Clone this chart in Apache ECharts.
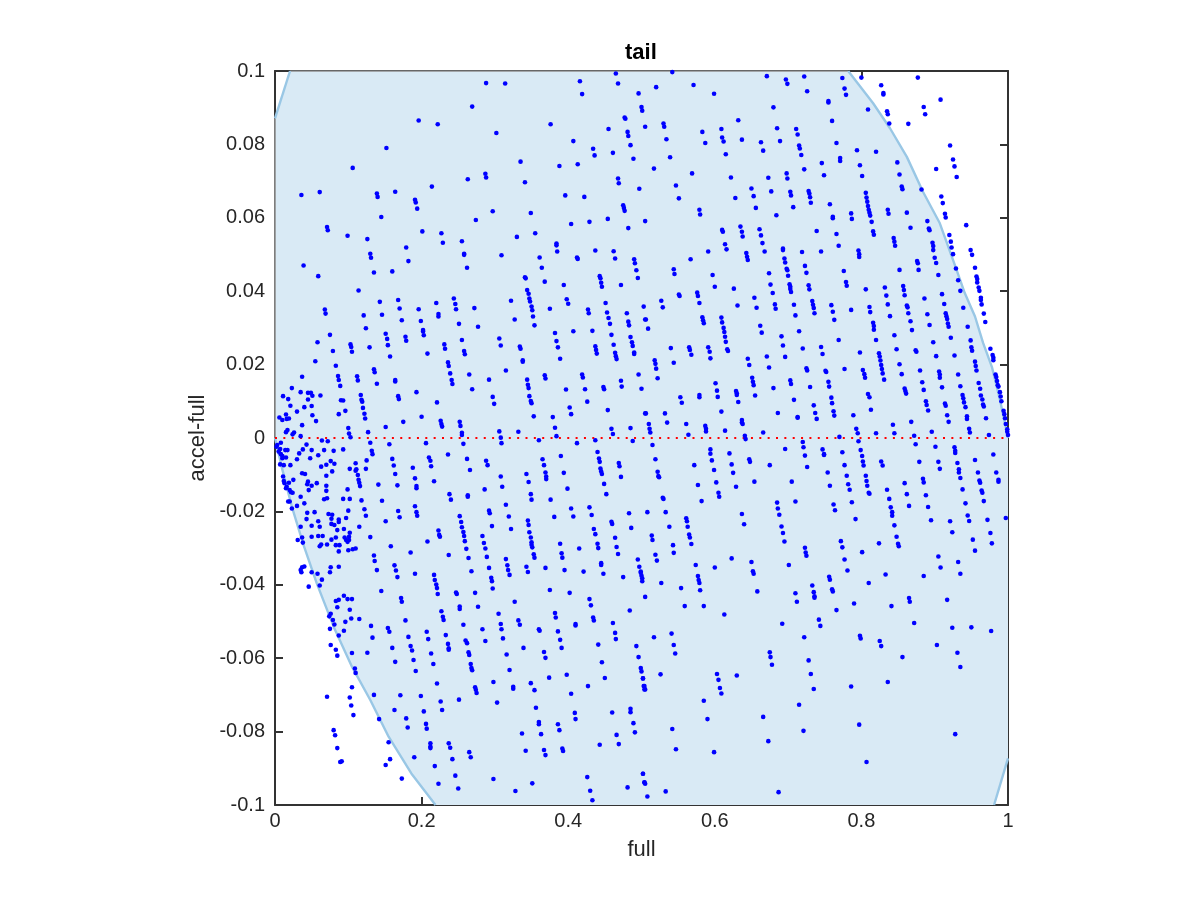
<!DOCTYPE html>
<html><head><meta charset="utf-8"><style>html,body{margin:0;padding:0;background:#fff}#c{width:1200px;height:900px}</style>
<script src="https://cdn.jsdelivr.net/npm/echarts@6/dist/echarts.min.js"></script></head><body><div id="c"></div><script>
const xTicks=[0,0.2,0.4,0.6,0.8,1];
const yTicks=[-0.1,-0.08,-0.06,-0.04,-0.02,0,0.02,0.04,0.06,0.08,0.1];
const titleText='tail', xName='full', yName='accel-full';
const curveRight=[[.782,.1],[.816,.0912],[.839,.0844],[.862,.0766],[.884,.0671],[.907,.0585],[.929,.0463],[.941,.0395],[.955,.0331],[.966,.0259],[.978,.0194],[.989,.0104],[1,0]];
const curveLeft=[[0,0],[.009,-.0078],[.023,-.0187],[.039,-.0292],[.057,-.0396],[.08,-.0514],[.105,-.0623],[.13,-.0714],[.155,-.0814],[.186,-.0914],[.219,-.1]];
const cornerTop=[[0,.0871],[.0205,.1]];
const cornerBottom=[[.981,-.1],[1,-.0873]];
const rimTop=[[.0205,.1],[.782,.1]];
const rimLeft=[[0,.0871],[0,0]];
const zeroLine=[[0,0],[1,0]];
const upperLeft=[[.288,.0967],[.314,.0966],[.465,.0993],[.468,.0966],[.416,.0972],[.419,.0937],[.496,.0939],[.5,.0902],[.501,.0892],[.269,.0903],[.196,.0865],[.222,.0855],[.376,.0855],[.477,.0873],[.478,.087],[.455,.0842],[.505,.0848],[.481,.0834],[.482,.0823],[.302,.0831],[.407,.0809],[.485,.0798],[.434,.0788],[.461,.0777],[.436,.077],[.489,.0761],[.152,.079],[.106,.0736],[.335,.0753],[.413,.0746],[.388,.0741],[.287,.072],[.288,.071],[.263,.0705],[.468,.0707],[.469,.0694],[.341,.0697],[.214,.0685],[.497,.0679],[.036,.0662],[.061,.067],[.139,.0666],[.14,.0657],[.164,.0671],[.191,.0649],[.192,.0642],[.194,.0625],[.396,.0661],[.422,.0657],[.475,.0634],[.476,.0627],[.477,.0619],[.297,.0618],[.349,.0613],[.145,.0602],[.274,.0594],[.404,.0583],[.429,.0589],[.454,.0597],[.505,.0591],[.482,.0572],[.071,.0575],[.072,.0566],[.201,.0563],[.227,.0558],[.229,.0532],[.355,.0558],[.099,.0551],[.126,.0542],[.33,.0548],[.255,.0536],[.384,.053],[.384,.0525],[.385,.0508],[.179,.0519],[.13,.0502],[.131,.0491],[.258,.0502],[.258,.0499],[.309,.0498],[.437,.0511],[.462,.0509],[.464,.0489],[.361,.0492],[.412,.0492],[.413,.0488],[.49,.0487],[.491,.0476],[.182,.0482],[.262,.0464],[.364,.0464],[.039,.047],[.16,.0454],[.135,.0451],[.059,.0441],[.493,.0457],[.495,.0436],[.341,.0438],[.342,.0435],[.443,.0441],[.444,.0435],[.445,.0423],[.446,.0412],[.368,.0426],[.472,.0417],[.394,.0417],[.114,.0402],[.344,.0403],[.346,.0393],[.347,.038],[.348,.0372],[.35,.0358],[.351,.0348],[.352,.0331],[.354,.0307],[.398,.0378],[.4,.0366],[.143,.0371],[.168,.0376],[.244,.038],[.246,.0365],[.247,.0351],[.22,.0368],[.322,.0374],[.451,.0368],[.453,.0342],[.455,.0327],[.457,.0311],[.459,.0281],[.462,.0254],[.464,.0232],[.465,.0223],[.466,.0215],[.068,.035],[.069,.0339],[.17,.0353],[.196,.0351],[.223,.0338],[.223,.0331],[.272,.0354],[.375,.0352],[.427,.035],[.428,.034],[.503,.0358],[.505,.0323],[.121,.0334],[.146,.0336],[.327,.0323],[.173,.0321],[.199,.0319],[.48,.034],[.482,.0317],[.483,.0307],[.251,.0311],[.277,.0303],[.124,.0299],[.202,.0294],[.202,.029],[.203,.028],[.433,.0292],[.407,.0291],[.382,.0286],[.384,.0264],[.386,.0247],[.389,.0216],[.151,.0284],[.153,.027],[.154,.0253],[.157,.0222],[.075,.0281],[.178,.0276],[.179,.0265],[.306,.0271],[.308,.0252],[.255,.0267],[.058,.0261],[.103,.0255],[.104,.0248],[.105,.0235],[.231,.0255],[.232,.0243],[.129,.0247],[.334,.0249],[.335,.0243],[.485,.0275],[.487,.0261],[.488,.0251],[.49,.0233],[.49,.0229],[.437,.025],[.438,.024],[.439,.023],[.258,.0237],[.259,.0228],[.079,.0237],[.208,.023],[.338,.0212],[.338,.0208],[.055,.0209],[.236,.0206],[.237,.0196],[.239,.0176],[.241,.0158],[.242,.0147],[.083,.0197],[.135,.0187],[.136,.0179],[.315,.0184],[.037,.0167],[.086,.0169],[.087,.0158],[.089,.0142],[.112,.0168],[.113,.0157],[.265,.0173],[.292,.0159],[.344,.0159],[.345,.0145],[.346,.0136],[.368,.0171],[.369,.0162],[.419,.0173],[.42,.0165],[.496,.0173],[.164,.0158],[.164,.0154],[.139,.0148],[.472,.0156],[.473,.014],[.448,.0139],[.449,.0133],[.397,.0132],[.423,.0133],[.5,.0134],[.269,.0133],[.193,.0125],[.023,.0136],[.035,.0125],[.045,.0123],[.049,.0123],[.051,.0115],[.045,.0105],[.062,.0116],[.011,.0114],[.018,.0106],[.117,.0117],[.118,.0104],[.119,.0099],[.12,.0082],[.122,.0066],[.123,.0053],[.168,.0114],[.169,.0106],[.297,.0112],[.299,.0093],[.347,.0114],[.349,.0101],[.35,.0095],[.09,.0103],[.093,.0102],[.221,.0097],[.426,.0099],[.021,.0088],[.05,.0087],[.04,.0084],[.402,.0083],[.404,.0065],[.096,.0074],[.454,.0076],[.03,.0072],[.015,.0064],[.051,.0062],[.087,.0065],[.505,.0067],[.006,.0056],[.01,.0049],[.016,.0052],[.019,.0053],[.2,.0058],[.353,.0059],[.379,.0057],[.056,.0046],[.175,.0044],[.226,.0047],[.227,.0038],[.228,.0031],[.252,.0044],[.253,.0033],[.037,.0035],[.151,.003],[.1,.0027],[.382,.0028],[.485,.0027],[.459,.0025],[.017,.0022],[.015,.0016],[.026,.0015],[.024,.001],[.101,.0012],[.103,.0002],[.127,.0016],[.255,.0014],[.255,.0008],[.306,.0018],[.308,.0001],[.332,.0017],[.384,.0005],[.461,.0011],[.035,.0005]];
const upperRight=[[.542,.0997],[.52,.0956],[.571,.0962],[.599,.0938],[.671,.0986],[.697,.0977],[.699,.0965],[.722,.0985],[.726,.0945],[.774,.0981],[.777,.0952],[.779,.0935],[.8,.0982],[.827,.0961],[.83,.094],[.83,.0936],[.877,.0982],[.908,.0922],[.755,.0918],[.755,.0914],[.885,.0902],[.887,.0882],[.68,.0901],[.809,.0895],[.835,.089],[.836,.0882],[.838,.0857],[.864,.0856],[.76,.0864],[.632,.0866],[.53,.0857],[.531,.0848],[.609,.0842],[.61,.0819],[.612,.0808],[.583,.0834],[.587,.0804],[.685,.0844],[.689,.0809],[.711,.0842],[.713,.0827],[.715,.0797],[.716,.0789],[.718,.0771],[.534,.0814],[.637,.0813],[.663,.0806],[.666,.0783],[.766,.0804],[.921,.0797],[.794,.0784],[.82,.078],[.615,.0773],[.539,.0765],[.771,.0763],[.771,.0755],[.925,.0759],[.927,.074],[.93,.0711],[.746,.0749],[.798,.0743],[.849,.0751],[.517,.0734],[.722,.0732],[.902,.0733],[.569,.0721],[.698,.0721],[.699,.0707],[.749,.0716],[.801,.0714],[.852,.0718],[.622,.071],[.673,.0709],[.547,.0688],[.65,.068],[.653,.0659],[.656,.0627],[.855,.0685],[.856,.0678],[.882,.0677],[.677,.0672],[.703,.0671],[.704,.0661],[.728,.0673],[.729,.0666],[.73,.0656],[.731,.0641],[.628,.0654],[.551,.0653],[.806,.0668],[.807,.0655],[.808,.0644],[.809,.0632],[.81,.0622],[.811,.0614],[.812,.0606],[.814,.0589],[.909,.0658],[.911,.064],[.757,.0637],[.707,.0629],[.836,.0622],[.837,.0611],[.579,.0622],[.58,.0609],[.786,.0612],[.787,.0597],[.862,.0614],[.684,.0607],[.761,.0603],[.761,.0599],[.914,.0611],[.915,.0601],[.89,.0591],[.892,.0571],[.893,.0566],[.943,.058],[.635,.0576],[.637,.0562],[.638,.0549],[.661,.0569],[.663,.0552],[.665,.0531],[.668,.0508],[.61,.0567],[.611,.0562],[.867,.0573],[.739,.0564],[.816,.0563],[.817,.0554],[.766,.0556],[.92,.0553],[.922,.0535],[.923,.0519],[.925,.0501],[.844,.0545],[.845,.0535],[.846,.0524],[.897,.0532],[.898,.0523],[.898,.0512],[.614,.0528],[.616,.0514],[.769,.0524],[.693,.0516],[.693,.0512],[.591,.0508],[.719,.0507],[.745,.0508],[.796,.0511],[.797,.0501],[.797,.0493],[.643,.0504],[.644,.0494],[.645,.0485],[.949,.0512],[.951,.0499],[.9,.0491],[.902,.0477],[.695,.0489],[.696,.0478],[.698,.0461],[.699,.0457],[.7,.0442],[.567,.0487],[.876,.0482],[.877,.0476],[.878,.0458],[.723,.0469],[.725,.045],[.544,.046],[.545,.0447],[.852,.0458],[.776,.0455],[.955,.0464],[.929,.0462],[.674,.0449],[.597,.0444],[.905,.0444],[.957,.044],[.958,.0433],[.958,.0424],[.96,.041],[.961,.0401],[.963,.0382],[.963,.0376],[.964,.0364],[.967,.0339],[.969,.0316],[.932,.043],[.935,.0401],[.779,.0425],[.78,.0415],[.676,.0418],[.679,.0395],[.702,.0419],[.703,.0412],[.703,.0406],[.704,.0398],[.728,.0416],[.729,.0405],[.6,.0412],[.626,.0407],[.806,.0405],[.832,.041],[.834,.0388],[.836,.0364],[.839,.0332],[.857,.0414],[.858,.0403],[.859,.0389],[.576,.0396],[.577,.0387],[.579,.0368],[.551,.0391],[.552,.0387],[.91,.0392],[.913,.0365],[.886,.038],[.654,.0382],[.733,.0373],[.734,.0363],[.735,.0354],[.736,.034],[.527,.0374],[.529,.0356],[.682,.0364],[.683,.0352],[.708,.0363],[.631,.0361],[.759,.0362],[.761,.0344],[.763,.0322],[.657,.0355],[.811,.0357],[.812,.0343],[.862,.0361],[.863,.0356],[.864,.034],[.867,.0318],[.869,.0294],[.939,.0355],[.786,.0349],[.915,.034],[.916,.0332],[.917,.0324],[.918,.0312],[.919,.0303],[.89,.0337],[.71,.0334],[.506,.0323],[.509,.0298],[.583,.0329],[.584,.0321],[.585,.0313],[.609,.0328],[.61,.0315],[.612,.03],[.613,.0289],[.614,.0276],[.615,.0262],[.617,.0242],[.618,.0237],[.816,.0314],[.817,.0305],[.817,.0295],[.893,.0308],[.945,.0303],[.662,.0306],[.664,.0287],[.715,.0291],[.845,.028],[.82,.0267],[.691,.0277],[.693,.0252],[.769,.0267],[.949,.0266],[.922,.0273],[.898,.0261],[.54,.0245],[.565,.0247],[.566,.024],[.568,.0227],[.591,.0247],[.593,.0235],[.594,.0217],[.72,.0244],[.745,.0248],[.747,.0229],[.95,.0247],[.951,.0238],[.848,.0242],[.874,.0239],[.875,.0235],[.798,.0233],[.824,.0231],[.825,.0222],[.826,.0211],[.827,.0199],[.828,.0188],[.829,.0176],[.831,.0159],[.976,.0243],[.979,.0226],[.98,.0219],[.98,.0212],[.902,.0223],[.927,.0225],[.671,.0222],[.696,.0221],[.518,.0212],[.519,.0202],[.52,.0189],[.645,.0216],[.647,.0199],[.544,.0205],[.955,.0208],[.956,.0196],[.957,.0184],[.852,.0201],[.674,.0192],[.725,.019],[.726,.0184],[.751,.0183],[.752,.018],[.777,.0188],[.802,.0185],[.804,.0174],[.805,.0164],[.88,.0184],[.855,.0174],[.906,.0181],[.907,.0173],[.907,.0164],[.932,.0173],[.522,.0163],[.983,.0173],[.984,.0166],[.985,.0155],[.986,.0144],[.987,.014],[.651,.0164],[.652,.0153],[.653,.0144],[.703,.0157],[.704,.0147],[.601,.0149],[.755,.0153],[.756,.014],[.883,.0152],[.96,.015],[.962,.0134],[.935,.0141],[.91,.0138],[.73,.0139],[.68,.0136],[.603,.0129],[.885,.0131],[.629,.0128],[.63,.0122],[.63,.0117],[.859,.0135],[.86,.0128],[.861,.0121],[.989,.0125],[.99,.0113],[.991,.01],[.579,.0117],[.579,.0111],[.655,.0116],[.604,.0112],[.553,.0111],[.555,.0096],[.809,.012],[.811,.0111],[.759,.011],[.76,.0095],[.938,.0117],[.939,.0108],[.94,.0097],[.942,.0084],[.963,.0116],[.965,.0105],[.966,.0091],[.967,.0086],[.708,.0104],[.632,.0098],[.735,.0089],[.888,.01],[.889,.009],[.891,.0075],[.914,.0094],[.915,.0088],[.813,.0077],[.609,.0072],[.686,.0068],[.506,.0067],[.532,.0067],[.737,.0068],[.739,.0052],[.762,.0073],[.763,.0061],[.994,.0074],[.995,.0065],[.996,.0054],[.997,.0038],[.713,.0057],[.713,.0055],[.789,.0062],[.917,.0062],[.919,.0044],[.944,.0059],[.944,.0052],[.97,.0054],[.637,.0049],[.637,.0042],[.638,.0038],[.535,.0042],[.51,.0038],[.511,.0025],[.512,.0015],[.561,.0038],[.587,.0033],[.588,.0025],[.588,.0018],[.868,.0044],[.843,.0036],[.614,.002],[.666,.0015],[.564,.0009],[.793,.0025],[.795,.0013],[.845,.0013],[.82,.0013],[.896,.0017],[.947,.0025],[.948,.0015],[.999,.0024],[.999,.0017],[1,.0008],[.974,.0008],[.641,.0006],[.77,.0003],[.872,.0006]];
const lowerLeft=[[.003,-.0019],[.002,-.0024],[.007,-.003],[.005,-.0037],[.008,-.0044],[.01,-.0049],[.008,-.0013],[.014,-.0033],[.017,-.0033],[.015,-.0053],[.01,-.0055],[.007,-.0072],[.012,-.0074],[.021,-.0074],[.033,-.0042],[.038,-.0031],[.043,-.0018],[.03,-.0058],[.05,-.0033],[.059,-.0047],[.048,-.0055],[.067,-.0033],[.08,-.0035],[.093,-.0031],[.064,-.0007],[.072,-.0009],[.063,-.0078],[.07,-.0073],[.076,-.0063],[.081,-.007],[.078,-.0091],[.07,-.0103],[.102,-.0084],[.11,-.0069],[.111,-.0085],[.11,-.0089],[.124,-.0084],[.125,-.0061],[.13,-.0013],[.132,-.0035],[.133,-.0044],[.113,-.0101],[.114,-.0114],[.115,-.0122],[.116,-.0131],[.156,-.0017],[.16,-.0057],[.162,-.0075],[.164,-.0098],[.167,-.0129],[.141,-.0127],[.146,-.0171],[.188,-.0081],[.191,-.011],[.193,-.0131],[.193,-.0137],[.206,-.0014],[.21,-.0053],[.212,-.0062],[.213,-.0077],[.217,-.0118],[.236,-.0045],[.262,-.0057],[.266,-.0087],[.288,-.0062],[.29,-.0074],[.257,-.0016],[.309,-.0014],[.36,-.0006],[.412,-.0014],[.437,-.0006],[.488,-.0008],[.39,-.0049],[.394,-.0095],[.399,-.0138],[.365,-.0058],[.367,-.0074],[.369,-.0094],[.37,-.0105],[.37,-.0112],[.343,-.0098],[.346,-.012],[.349,-.0153],[.35,-.0168],[.376,-.0168],[.308,-.0105],[.31,-.0133],[.286,-.014],[.238,-.0153],[.24,-.0168],[.263,-.0156],[.263,-.016],[.44,-.0038],[.442,-.0056],[.443,-.0065],[.444,-.0083],[.445,-.0091],[.446,-.0098],[.449,-.0125],[.452,-.0153],[.469,-.0068],[.47,-.0077],[.472,-.0106],[.011,-.0105],[.012,-.0117],[.013,-.0123],[.019,-.0122],[.015,-.0137],[.016,-.0133],[.02,-.0142],[.022,-.0148],[.024,-.0149],[.025,-.0114],[.037,-.0096],[.041,-.0098],[.045,-.0119],[.044,-.0126],[.05,-.013],[.057,-.0123],[.046,-.0142],[.07,-.013],[.07,-.0144],[.071,-.0164],[.067,-.0167],[.099,-.014],[.093,-.0166],[.102,-.0166],[.035,-.016],[.04,-.0178],[.03,-.0185],[.023,-.0192],[.018,-.0173],[.02,-.0173],[.118,-.017],[.122,-.0194],[.124,-.0212],[.1,-.0198],[.097,-.0218],[.115,-.0242],[.13,-.027],[.044,-.0204],[.054,-.0202],[.043,-.0221],[.035,-.0242],[.073,-.0207],[.078,-.0209],[.077,-.022],[.087,-.0222],[.087,-.0229],[.059,-.0227],[.077,-.0234],[.081,-.0237],[.05,-.0239],[.061,-.0242],[.085,-.0251],[.094,-.0248],[.102,-.0258],[.05,-.0269],[.059,-.0267],[.065,-.0267],[.037,-.0271],[.031,-.0278],[.038,-.0285],[.077,-.0277],[.083,-.0271],[.095,-.0271],[.101,-.0269],[.097,-.0278],[.101,-.0278],[.099,-.0283],[.071,-.029],[.063,-.029],[.061,-.0295],[.083,-.0292],[.088,-.0292],[.087,-.0309],[.1,-.0306],[.106,-.0303],[.11,-.0301],[.151,-.0227],[.168,-.0199],[.17,-.0216],[.191,-.0186],[.193,-.0202],[.194,-.0212],[.252,-.0213],[.254,-.0229],[.255,-.0243],[.257,-.0256],[.258,-.0267],[.259,-.0281],[.261,-.0302],[.264,-.0327],[.268,-.0363],[.223,-.0252],[.224,-.0264],[.225,-.0269],[.208,-.0282],[.185,-.0312],[.158,-.0295],[.292,-.0198],[.293,-.0205],[.296,-.024],[.315,-.0182],[.319,-.0214],[.322,-.0248],[.345,-.0225],[.346,-.0237],[.347,-.0257],[.349,-.0271],[.35,-.0284],[.35,-.0291],[.351,-.0298],[.353,-.0317],[.354,-.0326],[.283,-.0267],[.285,-.0286],[.287,-.0301],[.289,-.0324],[.292,-.0354],[.295,-.0381],[.296,-.039],[.297,-.041],[.381,-.0215],[.404,-.0192],[.407,-.0214],[.429,-.0189],[.432,-.021],[.435,-.0248],[.437,-.0262],[.389,-.0288],[.391,-.0314],[.392,-.0326],[.395,-.036],[.459,-.0228],[.46,-.0234],[.483,-.0205],[.486,-.0245],[.464,-.0272],[.466,-.0297],[.468,-.0316],[.44,-.0288],[.441,-.03],[.415,-.0301],[.445,-.0341],[.445,-.0346],[.448,-.037],[.421,-.0364],[.369,-.0354],[.495,-.0331],[.497,-.0351],[.499,-.0367],[.5,-.0375],[.501,-.0382],[.475,-.0379],[.315,-.033],[.317,-.0347],[.318,-.036],[.32,-.0373],[.343,-.0351],[.345,-.0365],[.135,-.032],[.136,-.0335],[.139,-.036],[.163,-.0347],[.165,-.0361],[.167,-.0379],[.191,-.037],[.237,-.0319],[.217,-.0373],[.218,-.0387],[.22,-.0399],[.221,-.0409],[.222,-.0425],[.076,-.0352],[.087,-.0351],[.075,-.0366],[.037,-.0352],[.04,-.035],[.035,-.036],[.036,-.0366],[.05,-.0366],[.058,-.037],[.064,-.0386],[.061,-.0402],[.046,-.0405],[.145,-.0417],[.247,-.0421],[.248,-.0425],[.273,-.0422],[.375,-.0414],[.402,-.0422],[.094,-.043],[.099,-.0439],[.105,-.0439],[.087,-.0441],[.083,-.0444],[.172,-.0436],[.173,-.0446],[.327,-.0446],[.429,-.0439],[.431,-.0456],[.252,-.0459],[.252,-.0466],[.277,-.046],[.085,-.0461],[.102,-.0468],[.227,-.0472],[.229,-.0487],[.23,-.0496],[.305,-.0479],[.382,-.0477],[.383,-.0489],[.484,-.047],[.076,-.0479],[.074,-.0486],[.079,-.0496],[.081,-.0508],[.104,-.0492],[.115,-.0493],[.096,-.0501],[.178,-.0497],[.332,-.0497],[.334,-.0509],[.434,-.0489],[.435,-.0497],[.131,-.0512],[.154,-.0518],[.156,-.0528],[.257,-.0509],[.308,-.0507],[.309,-.0521],[.41,-.0507],[.41,-.0511],[.461,-.0504],[.283,-.0521],[.36,-.0521],[.361,-.0525],[.075,-.052],[.094,-.0525],[.087,-.0538],[.207,-.0528],[.209,-.0548],[.233,-.0537],[.386,-.0527],[.389,-.055],[.391,-.0572],[.464,-.0531],[.465,-.0548],[.133,-.0544],[.182,-.0542],[.185,-.0567],[.187,-.0579],[.189,-.0605],[.192,-.0635],[.26,-.0552],[.262,-.0559],[.236,-.0561],[.237,-.0573],[.237,-.0577],[.311,-.0546],[.287,-.0553],[.076,-.0564],[.083,-.0577],[.16,-.0572],[.339,-.0572],[.441,-.0563],[.493,-.0567],[.367,-.0583],[.369,-.0599],[.126,-.0585],[.105,-.0586],[.085,-.0593],[.264,-.0584],[.265,-.0591],[.267,-.0616],[.268,-.0627],[.269,-.0633],[.213,-.0587],[.216,-.0616],[.316,-.059],[.446,-.0611],[.164,-.061],[.496,-.0597],[.499,-.0627],[.5,-.0636],[.502,-.0655],[.109,-.0628],[.11,-.064],[.32,-.0632],[.374,-.0653],[.398,-.0645],[.45,-.0654],[.298,-.0665],[.221,-.0669],[.273,-.0679],[.274,-.0686],[.275,-.0695],[.325,-.0678],[.325,-.0683],[.349,-.0668],[.354,-.0687],[.427,-.0676],[.503,-.0676],[.504,-.0685],[.105,-.0679],[.071,-.0705],[.102,-.0707],[.104,-.0729],[.107,-.0755],[.135,-.07],[.171,-.0701],[.199,-.0703],[.251,-.0713],[.226,-.0718],[.228,-.0741],[.303,-.0721],[.404,-.0697],[.163,-.0741],[.203,-.0745],[.356,-.0735],[.409,-.0749],[.41,-.0766],[.46,-.0748],[.485,-.0738],[.485,-.0747],[.179,-.0764],[.181,-.0789],[.142,-.0766],[.206,-.0779],[.207,-.0792],[.36,-.0774],[.36,-.078],[.363,-.0807],[.386,-.078],[.388,-.0796],[.489,-.0777],[.491,-.0802],[.466,-.0809],[.08,-.0796],[.082,-.081],[.337,-.0805],[.212,-.0832],[.212,-.0841],[.212,-.0845],[.237,-.0832],[.239,-.0844],[.242,-.0875],[.155,-.0829],[.443,-.0836],[.469,-.0834],[.085,-.0845],[.089,-.0883],[.091,-.0881],[.342,-.0852],[.367,-.085],[.369,-.0864],[.392,-.0846],[.393,-.0853],[.265,-.0856],[.267,-.087],[.19,-.087],[.157,-.0875],[.151,-.0891],[.218,-.0894],[.246,-.092],[.173,-.0928],[.298,-.0929],[.426,-.0924],[.502,-.0915],[.504,-.0939],[.223,-.0942],[.351,-.0941],[.25,-.0955],[.481,-.0952],[.43,-.0961],[.328,-.0962],[.433,-.0987]];
const lowerRight=[[.515,-.0019],[.594,-.0031],[.594,-.0043],[.596,-.0061],[.599,-.0087],[.602,-.0121],[.605,-.0149],[.606,-.016],[.62,-.0042],[.623,-.0072],[.625,-.0095],[.629,-.0133],[.642,-.0003],[.647,-.0058],[.648,-.0065],[.654,-.0119],[.675,-.0074],[.696,-.003],[.72,-.0011],[.721,-.0025],[.723,-.0048],[.726,-.0079],[.747,-.0031],[.749,-.0044],[.749,-.0046],[.774,-.0039],[.777,-.0074],[.78,-.0103],[.782,-.0126],[.784,-.0141],[.787,-.0175],[.796,-.0009],[.799,-.0033],[.801,-.0049],[.802,-.0064],[.803,-.0075],[.806,-.0103],[.807,-.0117],[.808,-.013],[.81,-.0149],[.811,-.0152],[.827,-.0064],[.829,-.0075],[.874,-.0017],[.901,-.0024],[.879,-.0065],[.884,-.0111],[.885,-.0121],[.905,-.0065],[.907,-.0084],[.927,-.0025],[.928,-.0035],[.928,-.0041],[.931,-.0068],[.933,-.0085],[.933,-.0094],[.935,-.0109],[.938,-.014],[.942,-.0178],[.955,-.006],[.959,-.0094],[.961,-.0116],[.962,-.0122],[.964,-.0143],[.965,-.0149],[.967,-.0172],[.98,-.0045],[.984,-.0094],[.987,-.0114],[.987,-.0119],[.519,-.0058],[.522,-.0092],[.523,-.0104],[.524,-.0107],[.572,-.0074],[.577,-.0128],[.582,-.0172],[.705,-.0119],[.71,-.0173],[.754,-.0094],[.757,-.013],[.859,-.0123],[.862,-.0153],[.865,-.0185],[.888,-.0156],[.891,-.0188],[.895,-.0224],[.835,-.0141],[.838,-.0166],[.84,-.0189],[.842,-.0202],[.842,-.0212],[.845,-.0238],[.848,-.0269],[.85,-.0288],[.851,-.0295],[.529,-.0163],[.53,-.0166],[.533,-.0202],[.538,-.0242],[.508,-.0202],[.561,-.0219],[.562,-.0227],[.563,-.0242],[.565,-.0263],[.566,-.0271],[.568,-.0289],[.637,-.0207],[.64,-.0235],[.685,-.0176],[.686,-.0192],[.688,-.0209],[.691,-.0241],[.693,-.0259],[.695,-.0282],[.762,-.0181],[.764,-.0197],[.792,-.0221],[.921,-.0227],[.924,-.0257],[.945,-.0211],[.947,-.0226],[.952,-.0277],[.955,-.0307],[.972,-.0223],[.976,-.0259],[.978,-.0287],[.997,-.0218],[.514,-.0266],[.515,-.0278],[.543,-.0292],[.544,-.0313],[.519,-.0318],[.521,-.0334],[.772,-.0281],[.774,-.0298],[.777,-.0331],[.781,-.0361],[.824,-.0287],[.801,-.0311],[.623,-.0328],[.65,-.0338],[.652,-.0363],[.653,-.037],[.723,-.0299],[.724,-.0312],[.725,-.0321],[.905,-.0323],[.908,-.0353],[.932,-.0338],[.935,-.037],[.701,-.0346],[.574,-.0346],[.6,-.0353],[.577,-.0376],[.578,-.0387],[.579,-.0395],[.58,-.0415],[.833,-.0372],[.885,-.0376],[.499,-.0364],[.501,-.039],[.527,-.0395],[.505,-.0433],[.756,-.0378],[.757,-.0386],[.81,-.0395],[.733,-.0402],[.735,-.042],[.736,-.0431],[.736,-.0435],[.554,-.0409],[.658,-.0418],[.76,-.0412],[.761,-.0418],[.71,-.0423],[.712,-.0446],[.559,-.0458],[.585,-.0458],[.613,-.0481],[.865,-.0436],[.866,-.0446],[.917,-.0441],[.79,-.0451],[.841,-.0458],[.766,-.0469],[.692,-.0506],[.742,-.0495],[.744,-.0512],[.872,-.0504],[.924,-.0517],[.95,-.0516],[.977,-.0526],[.541,-.0533],[.544,-.0564],[.546,-.0587],[.517,-.0543],[.722,-.0543],[.798,-.0539],[.799,-.0546],[.825,-.0553],[.827,-.0567],[.903,-.0564],[.675,-.0584],[.676,-.0597],[.678,-.0618],[.728,-.0606],[.731,-.0643],[.735,-.0684],[.856,-.0597],[.931,-.0585],[.935,-.0624],[.526,-.0644],[.502,-.0655],[.603,-.0643],[.605,-.0659],[.607,-.0681],[.609,-.0696],[.63,-.0647],[.836,-.0665],[.786,-.0677],[.504,-.0676],[.505,-.0685],[.585,-.0716],[.59,-.0766],[.715,-.0727],[.666,-.076],[.797,-.0781],[.928,-.0807],[.542,-.0793],[.721,-.0798],[.673,-.0826],[.547,-.0848],[.599,-.0856],[.807,-.0883],[.502,-.0915],[.504,-.0938],[.505,-.0942],[.533,-.0963],[.687,-.0965],[.508,-.0977]];
const font='"Liberation Sans", Helvetica, Arial, sans-serif', ink='#262626';
const xMin=xTicks[0], xMax=xTicks[xTicks.length-1], yMin=yTicks[0], yMax=yTicks[yTicks.length-1];
const regionOutline=[...cornerTop,...curveRight,...cornerBottom.slice().reverse(),...curveLeft.slice().reverse()];
const chart=echarts.init(document.getElementById('c'),null,{renderer:'canvas'});
const edge=(d)=>({type:'line',data:d,showSymbol:false,symbol:'none',silent:true,z:4,lineStyle:{color:'#99c7e5',width:2.4},animation:false});
const rim=(d)=>({type:'line',data:d,showSymbol:false,symbol:'none',silent:true,z:3,lineStyle:{color:'#909090',width:1.6},animation:false});
const lineAxis={onZero:false,lineStyle:{color:'#333333',width:2}};
const tick={show:true,inside:true,length:8,lineStyle:{color:'#333333',width:2}};
const labelStyle={fontFamily:font,fontSize:20,color:ink};
chart.setOption({animation:false,backgroundColor:'#fff',
 title:{text:titleText,left:620,top:37,textStyle:{fontFamily:font,fontSize:22,fontWeight:'bold',color:'#000'}},
 grid:{left:275,top:71,width:733,height:734,containLabel:false},
 xAxis:[{type:'value',min:xMin,max:xMax,interval:0.2,position:'bottom',name:xName,nameLocation:'middle',nameGap:34,nameTextStyle:{fontFamily:font,fontSize:22,color:ink},axisLine:lineAxis,axisTick:tick,splitLine:{show:false},axisLabel:{...labelStyle,margin:6,formatter:v=>String(+v.toFixed(1))}},
  {type:'value',min:xMin,max:xMax,interval:0.2,position:'top',axisLine:lineAxis,axisTick:tick,splitLine:{show:false},axisLabel:{show:false}}],
 yAxis:[{type:'value',min:yMin,max:yMax,interval:0.02,position:'left',name:yName,nameLocation:'middle',nameGap:61,nameTextStyle:{fontFamily:font,fontSize:22,color:ink},axisLine:lineAxis,axisTick:tick,splitLine:{show:false},axisLabel:{...labelStyle,margin:10,formatter:v=>String(+v.toFixed(2))}},
  {type:'value',min:yMin,max:yMax,interval:0.02,position:'right',axisLine:lineAxis,axisTick:tick,splitLine:{show:false},axisLabel:{show:false}}],
 series:[
  {type:'custom',coordinateSystem:'cartesian2d',z:3,silent:true,data:[[0,0]],encode:{x:0,y:1},
   renderItem:(p,api)=>({type:'polygon',shape:{points:regionOutline.map(q=>api.coord(q))},style:{fill:'#d9eaf5'}})},
  rim(rimTop),rim(rimLeft),
  edge(curveRight),edge(curveLeft),edge(cornerTop),edge(cornerBottom),
  {type:'line',data:zeroLine,symbol:'none',silent:true,z:5,lineStyle:{color:'#ff0000',width:2,type:[2,6.35]}},
  {type:'scatter',data:[...upperLeft,...upperRight,...lowerLeft,...lowerRight],symbol:'circle',symbolSize:4.6,silent:true,z:6,clip:false,itemStyle:{color:'#0000ff',opacity:1}}
 ]});
</script></body></html>
